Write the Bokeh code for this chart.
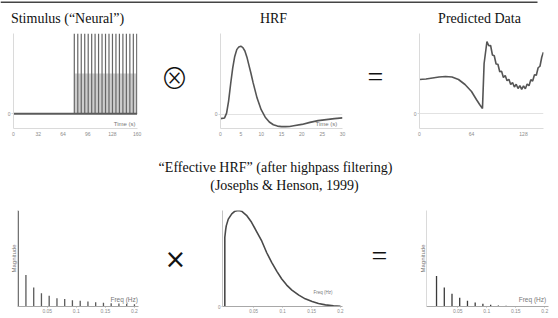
from bokeh.plotting import figure
from bokeh.models import Range1d, FixedTicker, Label, BoxAnnotation, CustomJSTickFormatter
from bokeh.layouts import column, row
from bokeh.embed import file_html
from bokeh.resources import INLINE

# ---------------- data ----------------
titles_top = ["Stimulus (\u201cNeural\u201d)", "HRF", "Predicted Data"]
title_mid_1 = "\u201cEffective HRF\u201d (after highpass filtering)"
title_mid_2 = "(Josephs & Henson, 1999)"

stim_times = [78.7, 83.2, 87.7, 92.2, 96.7, 101.2, 105.6, 110.1, 114.6, 119.1,
              123.6, 128.1, 132.6, 137.1, 141.6, 146.1, 150.6, 155.1, 159.5]
stim_height = [1.0] * len(stim_times)
stim_lower_band = 0.5
stim_baseline_t = [0, 160]
stim_ticks = [0, 32, 64, 96, 128, 160]

hrf_t = [0, 1, 1.5, 2, 2.5, 3, 3.5, 4, 4.5, 5, 5.5, 6, 6.5, 7, 7.5, 8, 9, 10, 11, 12,
         13, 14, 15, 16, 17, 18, 20, 22, 24, 26, 28, 30]
hrf_v = [-0.06, -0.05, 0.02, 0.20, 0.45, 0.68, 0.85, 0.95, 0.99, 1.0, 0.98, 0.93, 0.84,
         0.72, 0.60, 0.47, 0.24, 0.07, -0.04, -0.11, -0.15, -0.17, -0.178, -0.178,
         -0.175, -0.165, -0.145, -0.115, -0.09, -0.075, -0.06, -0.05]
hrf_ticks = [0, 5, 10, 15, 20, 25, 30]

pred_t = [0, 8, 16, 24, 32, 40, 48, 56, 64, 70, 74, 77.5, 79.5, 83, 85.25, 87.5, 89.75,
          92, 94.25, 96.5, 98.75, 101, 103.25, 105.5, 107.75, 110, 112.25, 114.5,
          116.75, 119, 121.25, 123.5, 125.75, 128, 130.25, 132.5, 134.75, 137, 139.25,
          141.5, 143.75, 146, 148.25, 150.5, 152.5]
pred_v = [1.36, 1.38, 1.42, 1.46, 1.48, 1.46, 1.36, 1.16, 0.88, 0.56, 0.36, 0.20, 2.0,
          2.88, 2.71, 2.72, 2.34, 2.31, 1.98, 1.97, 1.67, 1.69, 1.44, 1.52, 1.31, 1.37,
          1.16, 1.24, 1.06, 1.17, 1.00, 1.115, 0.965, 1.105, 0.99, 1.18, 1.11, 1.35,
          1.30, 1.55, 1.53, 1.83, 1.89, 2.26, 2.45]
pred_ticks = [0, 64, 128]

freqs = [0.0, 0.0133, 0.0267, 0.04, 0.0533, 0.0667, 0.08, 0.0933, 0.1067, 0.12,
         0.1333, 0.1467, 0.16, 0.1733, 0.1867, 0.2]
stim_mag = [1.0, 0.328, 0.199, 0.139, 0.111, 0.087, 0.077, 0.066, 0.059, 0.052,
            0.045, 0.038, 0.035, 0.031, 0.028, 0.024]
filt_f = [0, 0, 0.0015, 0.0025, 0.006, 0.012, 0.0175, 0.0235, 0.029, 0.0375, 0.046,
          0.055, 0.064, 0.0725, 0.081, 0.090, 0.0985, 0.107, 0.116, 0.128, 0.139, 0.151,
          0.162, 0.174, 0.188, 0.2]
filt_m = [0, 0.72, 0.80, 0.84, 0.91, 0.965, 0.993, 1.0, 0.993, 0.95, 0.88, 0.78, 0.68,
          0.56, 0.46, 0.366, 0.286, 0.223, 0.171, 0.118, 0.08, 0.052, 0.031, 0.017,
          0.007, 0.003]
pred_mag = [0.0, 0.318, 0.197, 0.134, 0.092, 0.061, 0.042, 0.028, 0.019, 0.010, 0.007,
            0.004, 0.003, 0.002, 0.0015, 0.001]
freq_ticks = [0.05, 0.1, 0.15, 0.2]

SANS = "Liberation Sans"
SERIF = "Liberation Serif"
AX_LIGHT = "#dadada"
AX_MID = "#a8a8a8"
CURVE = "#555555"


def make_panel(w, h, bl, br, bt, bb, xr, yr):
    p = figure(width=w, height=h, x_range=Range1d(*xr), y_range=Range1d(*yr),
               output_backend="svg", toolbar_location=None,
               min_border_left=bl, min_border_right=br,
               min_border_top=bt, min_border_bottom=bb)
    p.outline_line_color = None
    p.xgrid.visible = False
    p.ygrid.visible = False
    return p


def style_axis(ax, ticks, color, size="5px", tick_out=1, standoff=2):
    ax.ticker = FixedTicker(ticks=ticks)
    ax.axis_line_color = color
    ax.major_tick_line_color = color
    ax.major_tick_in = 0
    ax.major_tick_out = tick_out
    ax.minor_tick_line_color = None
    ax.major_label_text_font = SANS
    ax.major_label_text_font_size = size
    ax.major_label_text_color = "#8c8c8c"
    ax.major_label_standoff = standoff
    ax.formatter = CustomJSTickFormatter(code="return String(tick);")


def zero_grid(p):
    p.ygrid.visible = True
    p.ygrid.ticker = FixedTicker(ticks=[0])
    p.ygrid.grid_line_color = "#e2e2e2"


def text_fig(w, h):
    p = figure(width=w, height=h, x_range=Range1d(0, w), y_range=Range1d(h, 0),
               output_backend="svg", toolbar_location=None, min_border=0,
               x_axis_location=None, y_axis_location=None)
    p.outline_line_color = None
    p.grid.visible = False
    return p


def small_label(p, x, y, text, size="6px"):
    p.add_layout(Label(x=x, y=y, text=text, text_font=SANS, text_font_size=size,
                       text_color="#777777", text_align="right", text_baseline="middle"))


def mag_label(ax):
    ax.axis_label = "Magnitude"
    ax.axis_label_text_font = SANS
    ax.axis_label_text_font_size = "6px"
    ax.axis_label_text_font_style = "normal"
    ax.axis_label_text_color = "#777777"
    ax.axis_label_standoff = 1


# ---------------- header ----------------
head = text_fig(558, 28)
head.add_layout(BoxAnnotation(left=0, right=537, top=1, bottom=2.6,
                              fill_color="#444444", fill_alpha=1, line_color=None))
for xc, t in zip([67, 273, 479], titles_top):
    head.add_layout(Label(x=xc, y=18, text=t, text_font=SERIF, text_font_size="14px",
                          text_color="#111111", text_align="center",
                          text_baseline="alphabetic"))

# ---------------- row 1 ----------------
p1 = make_panel(150, 117, 13, 13, 4, 17, (0, 160.5), (-0.185, 1.0))
zero_grid(p1)
style_axis(p1.xaxis[0], stim_ticks, AX_LIGHT, tick_out=0, standoff=3)
style_axis(p1.yaxis[0], [0], AX_LIGHT, tick_out=2, standoff=1)
p1.quad(left=[stim_times[0]], right=[stim_times[-1]], bottom=[0], top=[stim_lower_band],
        fill_color="#cdcdcd", line_color=None)
p1.segment(x0=stim_times, y0=[0] * len(stim_times), x1=stim_times, y1=stim_height,
           line_color="#666666", line_width=1.2)
p1.line(stim_baseline_t, [0, 0], line_color="#5a5a5a", line_width=2)
small_label(p1, 158, -0.123, "Time (s)")

op1 = text_fig(55, 117)
op1.add_layout(Label(x=24, y=54, text="\u2297", text_font="Noto Sans CJK JP Light",
                     text_font_size="28px", text_color="#111111",
                     text_align="center", text_baseline="middle"))

p2 = make_panel(150, 117, 15, 13, 5, 17, (0, 30), (-0.205, 1.186))
zero_grid(p2)
style_axis(p2.xaxis[0], hrf_ticks, AX_LIGHT, tick_out=0, standoff=3)
style_axis(p2.yaxis[0], [0], AX_LIGHT, tick_out=2, standoff=1)
p2.line(hrf_t, hrf_v, line_color=CURVE, line_width=1.6)
small_label(p2, 28.7, -0.146, "Time (s)")

op2 = text_fig(50, 117)
op2.add_layout(Label(x=20, y=53, text="=", text_font=SERIF, text_font_size="28px",
                     text_color="#111111", text_align="center", text_baseline="middle"))

p3 = make_panel(153, 117, 14, 15, 5, 17, (0, 152.6), (-0.6, 3.2))
zero_grid(p3)
style_axis(p3.xaxis[0], pred_ticks, AX_LIGHT, tick_out=0, standoff=3)
style_axis(p3.yaxis[0], [0], AX_LIGHT, tick_out=2, standoff=1)
p3.line(pred_t, pred_v, line_color=CURVE, line_width=1.6)

# ---------------- middle title ----------------
mid = text_fig(558, 50)
mid.add_layout(Label(x=275, y=22, text=title_mid_1, text_font=SERIF, text_font_size="14px",
                     text_color="#111111", text_align="center", text_baseline="alphabetic"))
mid.add_layout(Label(x=284, y=40, text=title_mid_2, text_font=SERIF, text_font_size="14px",
                     text_color="#111111", text_align="center", text_baseline="alphabetic"))

# ---------------- row 2 ----------------
p4 = make_panel(150, 123, 17, 12, 15, 12, (-0.0012, 0.207), (0, 1.0))
style_axis(p4.xaxis[0], freq_ticks, AX_MID, tick_out=1, standoff=1)
style_axis(p4.yaxis[0], [], "#d8d8d8", tick_out=0, standoff=0)
mag_label(p4.yaxis[0])
p4.segment(x0=freqs, y0=[0] * len(freqs), x1=freqs, y1=stim_mag,
           line_color="#5a5a5a", line_width=1.3)
small_label(p4, 0.206, 0.075, "Freq (Hz)", size="6.5px")

op3 = text_fig(55, 123)
op3.add_layout(Label(x=25, y=62, text="\u00d7", text_font="DejaVu Sans",
                     text_font_size="26px", text_color="#111111",
                     text_align="center", text_baseline="middle"))

p5 = make_panel(152, 123, 17, 15, 15, 12, (-0.004, 0.2035), (0, 1.0))
style_axis(p5.xaxis[0], freq_ticks, AX_MID, size="4.5px", tick_out=1, standoff=1)
style_axis(p5.yaxis[0], [0], "#c4c4c4", size="4.5px", tick_out=1, standoff=1)
p5.line(filt_f, filt_m, line_color="#4a4a4a", line_width=1.6)
small_label(p5, 0.186, 0.146, "Freq (Hz)", size="4.5px")

op4 = text_fig(48, 123)
op4.add_layout(Label(x=22, y=58, text="=", text_font=SERIF, text_font_size="28px",
                     text_color="#111111", text_align="center", text_baseline="middle"))

p6 = make_panel(153, 123, 21, 10, 15, 12, (-0.004, 0.2065), (0, 1.0))
style_axis(p6.xaxis[0], freq_ticks, AX_MID, tick_out=1, standoff=1)
style_axis(p6.yaxis[0], [], AX_LIGHT, tick_out=0, standoff=0)
mag_label(p6.yaxis[0])
p6.segment(x0=freqs, y0=[0] * len(freqs), x1=freqs, y1=pred_mag,
           line_color="#3a3a3a", line_width=1.3)
small_label(p6, 0.2025, 0.075, "Freq (Hz)", size="6.5px")

layout = column(head,
                row(p1, op1, p2, op2, p3),
                mid,
                row(p4, op3, p5, op4, p6))

open("out.html", "w").write(file_html(layout, INLINE))
